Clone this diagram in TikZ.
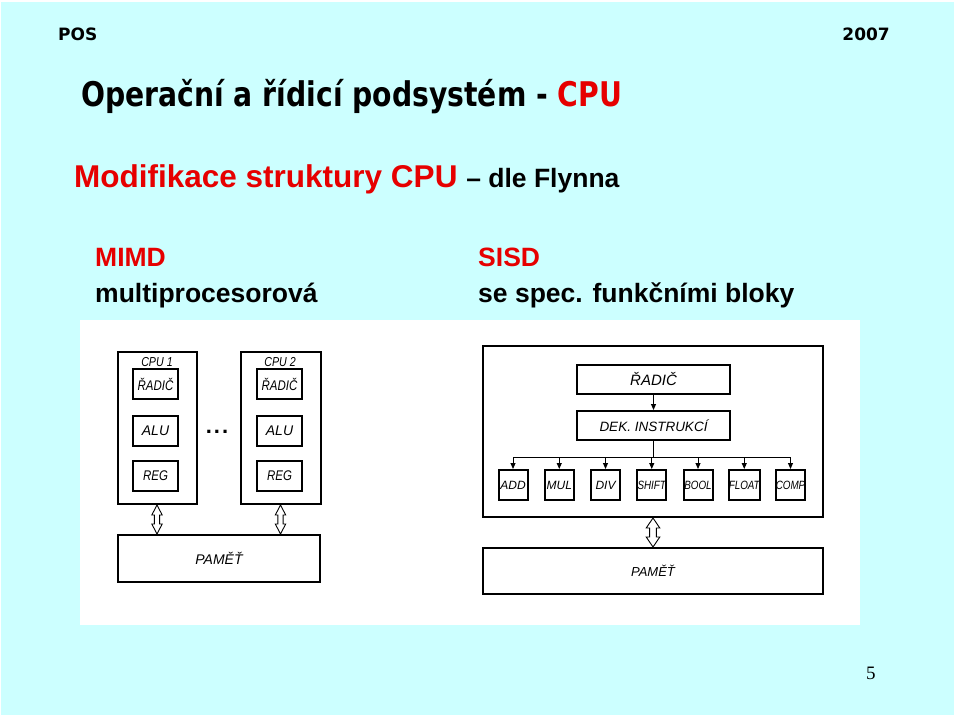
\documentclass[tikz,border=0pt]{standalone}
\usepackage{fontspec}
\setmainfont{Liberation Sans}
\newfontfamily\tahoma{DejaVu Sans}
\newfontfamily\cislo{Liberation Serif}
\usetikzlibrary{arrows.meta,calc}
\definecolor{pozadi}{RGB}{204,255,255}
\definecolor{cervena}{RGB}{230,0,0}
\newcommand\vel[1]{\fontsize{#1}{#1}\selectfont}
\newcommand\uz[1]{\scalebox{0.82}[1]{#1}}
\tikzset{
  ram/.style       = {draw, line width=2pt, inner sep=0pt},
  blok/.style      = {ram, minimum width=45pt, minimum height=30pt,
                      font=\vel{14}\itshape},
  fublok/.style    = {ram, minimum width=29pt, minimum height=30pt,
                      font=\vel{12}\itshape},
  popis/.style     = {anchor=base west, inner sep=0pt},
  sipka/.style     = {line width=1pt, -{Triangle[length=6pt,width=5pt]}},
  dvojsipka/.style = {line width=0.9pt, fill=white, to path={
      let \p1=(\tikztostart), \p2=(\tikztotarget) in
      (\x1,\y1) -- (\x1+#1*2pt,\y1-10pt) -- (\x1+#1,\y1-10pt)
      -- (\x1+#1,\y2+10pt) -- (\x1+#1*2pt,\y2+10pt) -- (\x1,\y2)
      -- (\x1-#1*2pt,\y2+10pt) -- (\x1-#1,\y2+10pt)
      -- (\x1-#1,\y1-10pt) -- (\x1-#1*2pt,\y1-10pt) -- cycle}},
  dvojsipka/.default = 2.8pt
}

\begin{document}
\begin{tikzpicture}[x=1pt, y=-1pt]
  \useasboundingbox (0,0) rectangle (960,720);
  \fill[white] (0,0) rectangle (960,720);
  \fill[pozadi] (1,2) rectangle (954,715);
  \fill[white] (80,320) rectangle (860,625);

  \node[popis] (pos) at (58,40) {\tahoma\bfseries\vel{17}POS};
  \node[popis, anchor=base east] (rok) at (890,40) {\tahoma\bfseries\vel{17}2007};
  \node[popis] (nadpis) at (81,106)
    {\resizebox{541pt}{\height}{\tahoma\bfseries\vel{34}Operační a řídicí podsystém - \textcolor{cervena}{CPU}}};
  \node[popis] (podnadpis) at (74,187)
    {\bfseries\textcolor{cervena}{\vel{31.5}Modifikace struktury CPU }\vel{26.5}– dle Flynna};
  \node[popis, text=cervena] (mimd) at (95,266) {\bfseries\vel{26.5}MIMD};
  \node[popis] (mimdtxt) at (95,302) {\bfseries\vel{26.5}multiprocesorová};
  \node[popis, text=cervena] (sisd) at (478,266) {\bfseries\vel{26.5}SISD};
  \node[popis] (sisdtxt) at (478,302) {\bfseries\vel{26.5}se spec. funkčními bloky};
  \node[popis] (strana) at (866,679) {\cislo\vel{19}5};

  \node[ram, minimum width=79pt, minimum height=152pt] (cpua) at (157,428) {};
  \node[ram, minimum width=80pt, minimum height=152pt] (cpub) at (280.5,428) {};
  \node[font=\vel{13}\itshape] (cpual) at (157,362) {\uz{CPU 1}};
  \node[font=\vel{13}\itshape] (cpubl) at (280,362) {\uz{CPU 2}};
  \node[blok] (radica) at (155.5,384) {\uz{ŘADIČ}};
  \node[blok] (alua) at (155.5,431) {ALU};
  \node[blok] (rega) at (155.5,475.5) {\uz{REG}};
  \node[blok] (radicb) at (279.5,384) {\uz{ŘADIČ}};
  \node[blok] (alub) at (279.5,431) {ALU};
  \node[blok] (regb) at (279.5,475.5) {\uz{REG}};
  \node[font=\bfseries\vel{22}] (tecky) at (217,432) {.\kern2pt.\kern2pt.};
  \node[ram, minimum width=202pt, minimum height=47pt, font=\vel{14}\itshape] (pameta) at (219,558.5) {PAMĚŤ};
  \draw[dvojsipka=2.6pt] (cpua.south) to (cpua.south |- pameta.north);
  \draw[dvojsipka=2.6pt] (cpub.south) to (cpub.south |- pameta.north);

  \node[ram, minimum width=340pt, minimum height=171pt] (cpu) at (653,431.5) {};
  \node[ram, minimum width=153pt, minimum height=29pt, font=\vel{15}\itshape] (radic) at (653.5,379.5) {ŘADIČ};
  \node[ram, minimum width=153pt, minimum height=29pt, font=\vel{13.5}\itshape] (dek) at (653.5,425.5) {DEK. INSTRUKCÍ};
  \foreach \jm [count=\i from 0] in {ADD,MUL,DIV,\uz{SHIFT},\uz{BOOL},\uz{FLOAT},\uz{COMP}}
    \node[fublok] (fu\i) at ({513+46.25*\i},485) {\jm};
  \coordinate (sb) at (653.5,457);
  \draw[sipka] (radic) -- (dek);
  \draw[line width=1pt] (dek.south) -- (sb);
  \draw[line width=1pt] (fu0.north |- sb) -- (fu6.north |- sb);
  \foreach \i in {0,...,6}
    \draw[sipka] (fu\i.north |- sb) -- (fu\i.north);
  \node[ram, minimum width=340pt, minimum height=46pt, font=\vel{13}\itshape] (pametb) at (653,571) {PAMĚŤ};
  \draw[dvojsipka=3.4pt] (cpu.south -| pametb) to (pametb.north);
\end{tikzpicture}
\end{document}
